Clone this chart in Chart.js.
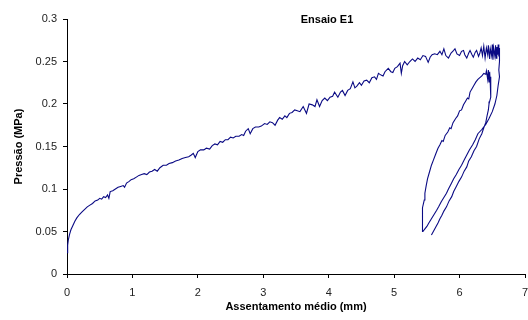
<!DOCTYPE html>
<html>
<head>
<meta charset="utf-8">
<script src="https://cdn.jsdelivr.net/npm/chart.js@4/dist/chart.umd.min.js"></script>
<style>
  html, body { margin: 0; padding: 0; background: #fff; }
  #wrap { width: 528px; height: 320px; }
</style>
</head>
<body>
<div id="wrap"><canvas id="myChart" width="528" height="320"></canvas></div>
<script>
const gTitle = "Ensaio E1";
const gXTitle = "Assentamento médio (mm)";
const gYTitle = "Pressão (MPa)";
const gXTicks = [0, 1, 2, 3, 4, 5, 6, 7];
const gYTicks = [0, 0.05, 0.1, 0.15, 0.2, 0.25, 0.3];

// carregamento
const gLoadX = [0.00, 0.01, 0.02, 0.04, 0.06, 0.09, 0.12, 0.15, 0.19, 0.23, 0.27, 0.31, 0.35, 0.39, 0.43, 0.47,
    0.50, 0.53, 0.56, 0.59, 0.62, 0.64, 0.66, 0.70, 0.74, 0.78, 0.82, 0.86, 0.88, 0.91, 0.95, 0.98,
    1.02, 1.06, 1.10, 1.14, 1.18, 1.22, 1.26, 1.30, 1.34, 1.38, 1.42, 1.47, 1.52, 1.56, 1.61, 1.66,
    1.71, 1.76, 1.81, 1.86, 1.90, 1.93, 1.96, 2.00, 2.04, 2.09, 2.13, 2.18, 2.22, 2.26, 2.30, 2.34,
    2.38, 2.42, 2.46, 2.50, 2.54, 2.58, 2.63, 2.67, 2.70, 2.73, 2.77, 2.80, 2.84, 2.88, 2.93, 2.97,
    3.02, 3.06, 3.10, 3.14, 3.18, 3.22, 3.25, 3.29, 3.33, 3.36, 3.40, 3.44, 3.48, 3.52, 3.56, 3.61,
    3.66, 3.70, 3.75, 3.79, 3.82, 3.86, 3.90, 3.94, 3.98, 4.02, 4.06, 4.09, 4.14, 4.18, 4.21, 4.25,
    4.29, 4.33, 4.37, 4.40, 4.43, 4.47, 4.50, 4.54, 4.58, 4.62, 4.66, 4.70, 4.73, 4.76, 4.80, 4.83,
    4.86, 4.91, 4.95, 4.98, 5.01, 5.05, 5.09, 5.11, 5.13, 5.16, 5.20, 5.24, 5.28, 5.32, 5.36, 5.40,
    5.44, 5.48, 5.52, 5.55, 5.58, 5.62, 5.66, 5.70, 5.73, 5.76, 5.79, 5.83, 5.87, 5.91, 5.93, 5.96,
    6.00, 6.03, 6.06, 6.08, 6.11, 6.14, 6.16, 6.19, 6.21, 6.24, 6.26, 6.29, 6.31, 6.33, 6.35, 6.37,
    6.39, 6.41, 6.43, 6.44, 6.46, 6.47, 6.49, 6.50, 6.51, 6.52, 6.54, 6.55, 6.56, 6.57, 6.58, 6.59,
    6.60, 6.61, 6.61];
const gLoadY = [0.025, 0.034, 0.040, 0.047, 0.052, 0.057, 0.062, 0.066, 0.070, 0.073, 0.076, 0.079, 0.081, 0.083, 0.086, 0.087,
    0.089, 0.088, 0.091, 0.090, 0.093, 0.089, 0.097, 0.098, 0.100, 0.102, 0.103, 0.104, 0.102, 0.107, 0.109, 0.111,
    0.112, 0.114, 0.116, 0.117, 0.118, 0.117, 0.120, 0.121, 0.123, 0.121, 0.125, 0.128, 0.128, 0.130, 0.131, 0.133,
    0.134, 0.136, 0.137, 0.138, 0.140, 0.142, 0.137, 0.144, 0.146, 0.146, 0.148, 0.147, 0.151, 0.153, 0.152, 0.156,
    0.155, 0.158, 0.158, 0.161, 0.160, 0.162, 0.162, 0.164, 0.163, 0.168, 0.171, 0.165, 0.171, 0.173, 0.173, 0.174,
    0.177, 0.176, 0.179, 0.178, 0.175, 0.181, 0.184, 0.182, 0.186, 0.184, 0.189, 0.190, 0.193, 0.192, 0.191, 0.197,
    0.189, 0.200, 0.199, 0.197, 0.205, 0.197, 0.204, 0.207, 0.204, 0.208, 0.209, 0.214, 0.208, 0.214, 0.216, 0.210,
    0.216, 0.218, 0.226, 0.219, 0.221, 0.225, 0.222, 0.227, 0.228, 0.225, 0.231, 0.232, 0.229, 0.236, 0.234, 0.233,
    0.238, 0.242, 0.238, 0.237, 0.242, 0.244, 0.248, 0.236, 0.245, 0.250, 0.246, 0.250, 0.253, 0.250, 0.254, 0.252,
    0.257, 0.256, 0.249, 0.255, 0.258, 0.259, 0.258, 0.262, 0.258, 0.265, 0.257, 0.254, 0.260, 0.263, 0.265, 0.259,
    0.257, 0.262, 0.263, 0.258, 0.254, 0.260, 0.263, 0.258, 0.255, 0.261, 0.263, 0.256, 0.260, 0.266, 0.257, 0.268,
    0.254, 0.266, 0.258, 0.269, 0.253, 0.265, 0.257, 0.270, 0.252, 0.266, 0.256, 0.269, 0.254, 0.267, 0.258, 0.270,
    0.256, 0.266, 0.262];

// descarregamento 1
const gUnload1X = [6.61, 6.60, 6.61, 6.59, 6.57, 6.54, 6.50, 6.45, 6.40, 6.34, 6.28, 6.24, 6.20, 6.15, 6.11, 6.07,
    6.03, 5.99, 5.95, 5.91, 5.87, 5.83, 5.80, 5.76, 5.72, 5.68, 5.65, 5.61, 5.57, 5.53, 5.50, 5.47, 5.44];
const gUnload1Y = [0.250, 0.240, 0.232, 0.222, 0.210, 0.200, 0.191, 0.183, 0.176, 0.170, 0.165, 0.158, 0.152, 0.146, 0.140, 0.134,
    0.128, 0.123, 0.117, 0.112, 0.106, 0.100, 0.095, 0.090, 0.085, 0.079, 0.075, 0.070, 0.065, 0.060, 0.056, 0.053, 0.050];

// recarregamento
const gReloadX = [5.43, 5.43, 5.44, 5.46, 5.47, 5.49, 5.51, 5.54, 5.57, 5.60, 5.64, 5.67, 5.70, 5.73, 5.75, 5.78,
    5.82, 5.85, 5.87, 5.90, 5.94, 5.97, 6.00, 6.03, 6.06, 6.09, 6.12, 6.14, 6.16, 6.19, 6.22, 6.25,
    6.28, 6.31, 6.34, 6.37, 6.40, 6.41, 6.43, 6.44, 6.45, 6.46, 6.47, 6.48, 6.48];
const gReloadY = [0.056, 0.068, 0.078, 0.087, 0.095, 0.104, 0.112, 0.120, 0.128, 0.134, 0.142, 0.148, 0.152, 0.157, 0.156, 0.163,
    0.167, 0.172, 0.171, 0.178, 0.183, 0.186, 0.192, 0.193, 0.199, 0.203, 0.207, 0.206, 0.214, 0.218, 0.222, 0.226,
    0.229, 0.231, 0.233, 0.236, 0.235, 0.239, 0.229, 0.240, 0.226, 0.238, 0.222, 0.232, 0.216];

// descarregamento 2
const gUnload2X = [6.47, 6.46, 6.45, 6.44, 6.42, 6.40, 6.37, 6.34, 6.30, 6.26, 6.22, 6.18, 6.14, 6.11, 6.07, 6.03,
    5.99, 5.95, 5.91, 5.88, 5.84, 5.80, 5.76, 5.73, 5.70, 5.67, 5.62, 5.57];
const gUnload2Y = [0.208, 0.203, 0.200, 0.193, 0.186, 0.178, 0.172, 0.165, 0.159, 0.150, 0.145, 0.138, 0.133, 0.126, 0.121, 0.114,
    0.109, 0.103, 0.097, 0.091, 0.086, 0.079, 0.074, 0.069, 0.065, 0.060, 0.053, 0.046];

function toPoints(xs, ys) {
    return xs.map((x, i) => ({x: x, y: ys[i]}));
}

function buildData() {
    var pts = toPoints(gLoadX, gLoadY)
        .concat(toPoints(gUnload1X, gUnload1Y))
        .concat(toPoints(gReloadX, gReloadY))
        .concat(toPoints(gUnload2X, gUnload2Y));
    return [{
        data: pts,
        showLine: true,
        borderColor: '#0a0a84',
        borderWidth: 1.1,
        pointRadius: 0,
        tension: 0,
        fill: false
    }];
}

const FONT = "'Liberation Sans', Arial, sans-serif";

// titulo desenhado dentro da area do grafico
const titlePlugin = {
    id: 'innerTitle',
    afterDraw(chart) {
        const ctx = chart.ctx;
        ctx.save();
        ctx.font = "bold 11px " + FONT;
        ctx.fillStyle = '#000';
        ctx.textAlign = 'center';
        ctx.textBaseline = 'middle';
        ctx.fillText(gTitle, 327, 20);
        ctx.restore();
    }
};

function fmtY(v) {
    return String(Number(v.toFixed(2)));
}

const gConfig = {
    type: 'scatter',
    data: {datasets: buildData()},
    plugins: [titlePlugin],
    options: {
        responsive: false,
        animation: false,
        layout: {padding: {top: 19, right: 0, left: 0, bottom: 0}},
        plugins: {
            legend: {display: false},
            tooltip: {enabled: false},
            title: {display: false}
        },
        scales: {
            x: {
                type: 'linear',
                min: 0,
                max: 7,
                afterFit: (s) => {
                    s.height = 46;
                    s.paddingLeft = 0;
                    s.paddingRight = 3;
                },
                afterBuildTicks: (s) => { s.ticks = gXTicks.map((v) => ({value: v})); },
                ticks: {font: {family: FONT, size: 11}, color: '#222', padding: 8, maxRotation: 0},
                grid: {drawOnChartArea: false, drawTicks: true, tickLength: 4, color: '#000'},
                border: {color: '#000', width: 1},
                title: {display: true, text: gXTitle, font: {family: FONT, size: 11, weight: 'bold'},
                    color: '#000', padding: {top: 0, bottom: 6}}
            },
            y: {
                type: 'linear',
                min: 0,
                max: 0.3,
                afterFit: (s) => { s.width = 67; },
                afterBuildTicks: (s) => { s.ticks = gYTicks.map((v) => ({value: v})); },
                ticks: {font: {family: FONT, size: 11}, color: '#222', padding: 6,
                    callback: (v) => fmtY(v)},
                grid: {drawOnChartArea: false, drawTicks: true, tickLength: 4, color: '#000'},
                border: {color: '#000', width: 1},
                title: {display: true, text: gYTitle, font: {family: FONT, size: 11, weight: 'bold'},
                    color: '#000', padding: {top: 12, bottom: 0}}
            }
        }
    }
};

const gChart = new Chart(document.getElementById('myChart'), gConfig);
</script>
</body>
</html>
